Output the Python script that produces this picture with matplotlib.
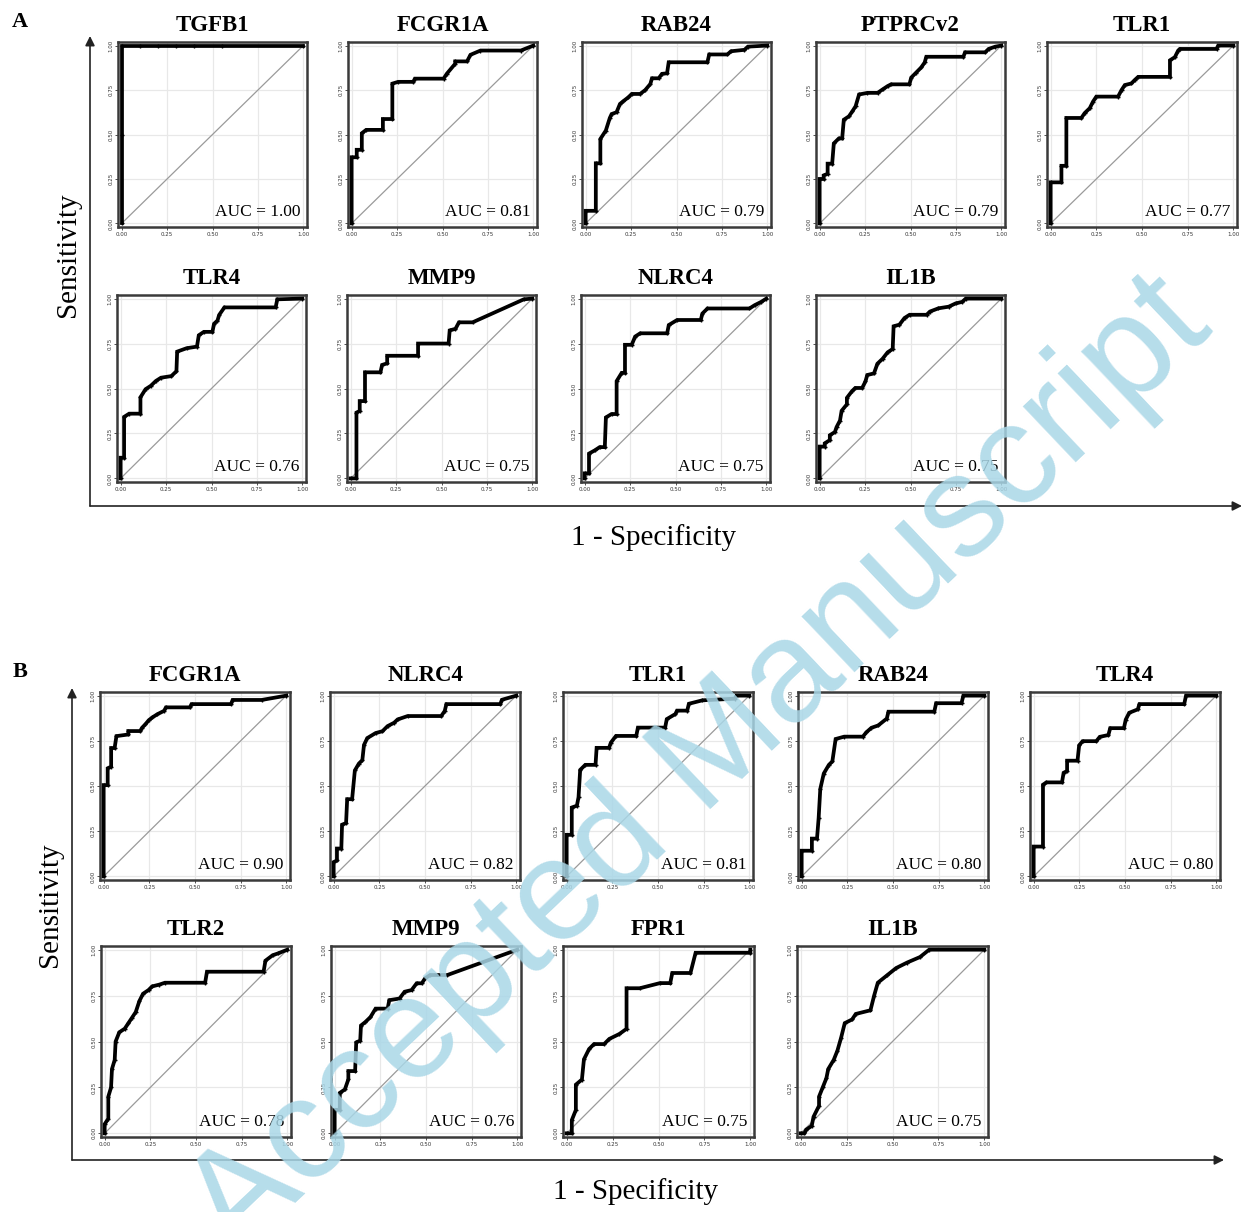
import matplotlib
matplotlib.use("Agg")
import matplotlib.pyplot as plt

W, H = 1247, 1212
SERIF = ["Liberation Serif", "DejaVu Serif"]

# ---- panel A: ROC curves (fpr, tpr) ----
a_tgfb1 = [(0, 0), (0, 0.5), (0, 1), (0.1, 1), (0.2, 1), (0.3, 1), (0.4, 1), (0.55, 1), (1, 1)]
a_fcgr1a = [(0, 0), (0, 0.372), (0.028, 0.372), (0.028, 0.414), (0.056, 0.414), (0.056, 0.507),
            (0.08, 0.526), (0.172, 0.526), (0.172, 0.587), (0.224, 0.587), (0.224, 0.786),
            (0.256, 0.796), (0.339, 0.796), (0.348, 0.814), (0.506, 0.814), (0.524, 0.842),
            (0.57, 0.898), (0.57, 0.911), (0.635, 0.911), (0.654, 0.948), (0.709, 0.972),
            (0.931, 0.972), (1, 1)]
a_rab24 = [(0, 0), (0, 0.071), (0.056, 0.071), (0.056, 0.338), (0.081, 0.338), (0.081, 0.475),
           (0.111, 0.522), (0.133, 0.593), (0.143, 0.615), (0.17, 0.625), (0.189, 0.672),
           (0.207, 0.687), (0.235, 0.709), (0.254, 0.728), (0.3, 0.728), (0.328, 0.75),
           (0.356, 0.784), (0.365, 0.816), (0.402, 0.816), (0.42, 0.841), (0.448, 0.844),
           (0.457, 0.906), (0.67, 0.906), (0.68, 0.95), (0.78, 0.95), (0.8, 0.968),
           (0.874, 0.976), (0.893, 0.994), (1, 1)]
a_ptprcv2 = [(0, 0), (0, 0.25), (0.022, 0.25), (0.022, 0.27), (0.044, 0.279), (0.044, 0.336),
             (0.069, 0.336), (0.078, 0.45), (0.106, 0.478), (0.124, 0.478), (0.133, 0.583),
             (0.161, 0.602), (0.18, 0.63), (0.198, 0.659), (0.217, 0.725), (0.263, 0.734),
             (0.319, 0.734), (0.346, 0.753), (0.374, 0.772), (0.393, 0.782), (0.494, 0.782),
             (0.504, 0.82), (0.531, 0.848), (0.559, 0.877), (0.578, 0.905), (0.587, 0.937),
             (0.791, 0.937), (0.8, 0.962), (0.911, 0.962), (0.93, 0.981), (0.967, 0.994), (1, 1)]
a_tlr1 = [(0, 0), (0, 0.231), (0.059, 0.231), (0.059, 0.324), (0.086, 0.324), (0.086, 0.593),
          (0.168, 0.593), (0.186, 0.62), (0.214, 0.648), (0.232, 0.685), (0.25, 0.713),
          (0.369, 0.713), (0.388, 0.75), (0.406, 0.778), (0.442, 0.787), (0.46, 0.806),
          (0.479, 0.824), (0.653, 0.824), (0.653, 0.917), (0.68, 0.935), (0.698, 0.972),
          (0.707, 0.981), (0.908, 0.981), (0.917, 1), (1, 1)]
a_tlr4 = [(0, 0), (0, 0.115), (0.019, 0.115), (0.019, 0.342), (0.047, 0.36), (0.109, 0.36),
          (0.109, 0.451), (0.137, 0.496), (0.166, 0.515), (0.194, 0.542), (0.222, 0.56),
          (0.279, 0.569), (0.307, 0.596), (0.311, 0.705), (0.363, 0.724), (0.42, 0.733),
          (0.43, 0.796), (0.458, 0.815), (0.505, 0.815), (0.514, 0.86), (0.533, 0.878),
          (0.542, 0.909), (0.571, 0.951), (0.853, 0.951), (0.862, 0.996), (1, 1)]
a_mmp9 = [(0, 0), (0.032, 0), (0.032, 0.366), (0.05, 0.375), (0.05, 0.43), (0.079, 0.43),
          (0.079, 0.59), (0.164, 0.59), (0.173, 0.631), (0.201, 0.64), (0.201, 0.682),
          (0.371, 0.682), (0.371, 0.75), (0.539, 0.75), (0.545, 0.823), (0.577, 0.832),
          (0.596, 0.868), (0.671, 0.868), (0.953, 0.996), (1, 1)]
a_nlrc4 = [(0, 0), (0, 0.028), (0.024, 0.028), (0.024, 0.138), (0.056, 0.156), (0.083, 0.174),
           (0.111, 0.174), (0.117, 0.339), (0.148, 0.358), (0.176, 0.358), (0.176, 0.541),
           (0.204, 0.587), (0.222, 0.587), (0.222, 0.743), (0.259, 0.743), (0.278, 0.789),
           (0.306, 0.807), (0.454, 0.807), (0.463, 0.853), (0.509, 0.881), (0.639, 0.881),
           (0.648, 0.917), (0.676, 0.945), (0.907, 0.945), (0.935, 0.963), (0.972, 0.982), (1, 1)]
a_il1b = [(0, 0), (0, 0.177), (0.028, 0.177), (0.028, 0.195), (0.056, 0.213), (0.056, 0.24),
          (0.084, 0.258), (0.093, 0.285), (0.112, 0.322), (0.121, 0.376), (0.15, 0.412),
          (0.15, 0.448), (0.178, 0.485), (0.196, 0.503), (0.234, 0.503), (0.252, 0.539),
          (0.262, 0.575), (0.299, 0.584), (0.318, 0.638), (0.346, 0.665), (0.374, 0.701),
          (0.402, 0.72), (0.407, 0.846), (0.439, 0.855), (0.467, 0.892), (0.495, 0.91),
          (0.589, 0.91), (0.607, 0.928), (0.654, 0.946), (0.71, 0.955), (0.748, 0.973),
          (0.785, 0.982), (0.804, 1), (1, 1)]

# ---- panel B ----
b_fcgr1a = [(0, 0), (0, 0.505), (0.022, 0.505), (0.022, 0.598), (0.041, 0.607), (0.041, 0.71),
            (0.06, 0.71), (0.07, 0.776), (0.135, 0.785), (0.135, 0.804), (0.2, 0.804),
            (0.21, 0.822), (0.228, 0.841), (0.247, 0.864), (0.266, 0.879), (0.294, 0.897),
            (0.331, 0.916), (0.341, 0.935), (0.472, 0.935), (0.481, 0.953), (0.697, 0.953),
            (0.706, 0.976), (0.865, 0.976), (1, 1)]
b_nlrc4 = [(0, 0), (0, 0.079), (0.018, 0.088), (0.018, 0.154), (0.042, 0.154), (0.046, 0.286),
           (0.068, 0.295), (0.074, 0.427), (0.101, 0.427), (0.116, 0.586), (0.138, 0.624),
           (0.157, 0.643), (0.166, 0.727), (0.184, 0.765), (0.23, 0.793), (0.267, 0.803),
           (0.295, 0.831), (0.331, 0.85), (0.35, 0.868), (0.405, 0.887), (0.589, 0.887),
           (0.608, 0.915), (0.617, 0.953), (0.912, 0.953), (0.921, 0.977), (1, 1)]
b_tlr1 = [(0, 0), (0, 0.23), (0.028, 0.23), (0.028, 0.381), (0.056, 0.391), (0.065, 0.438),
          (0.074, 0.589), (0.102, 0.617), (0.158, 0.617), (0.164, 0.711), (0.232, 0.711),
          (0.242, 0.74), (0.27, 0.777), (0.381, 0.777), (0.39, 0.823), (0.539, 0.823),
          (0.548, 0.87), (0.595, 0.898), (0.604, 0.917), (0.66, 0.917), (0.669, 0.955),
          (0.743, 0.974), (0.92, 0.983), (0.929, 1), (1, 1)]
b_rab24 = [(0, 0), (0, 0.142), (0.056, 0.142), (0.056, 0.209), (0.084, 0.209), (0.093, 0.323),
           (0.102, 0.484), (0.121, 0.569), (0.149, 0.617), (0.168, 0.636), (0.186, 0.76),
           (0.233, 0.773), (0.335, 0.773), (0.354, 0.797), (0.382, 0.822), (0.419, 0.835),
           (0.466, 0.873), (0.475, 0.911), (0.726, 0.911), (0.736, 0.958), (0.875, 0.958),
           (0.885, 1), (1, 1)]
b_tlr4 = [(0, 0), (0, 0.165), (0.051, 0.165), (0.051, 0.507), (0.07, 0.52), (0.155, 0.52),
          (0.164, 0.573), (0.183, 0.583), (0.183, 0.64), (0.24, 0.64), (0.249, 0.725),
          (0.268, 0.748), (0.343, 0.748), (0.362, 0.772), (0.409, 0.782), (0.419, 0.82),
          (0.494, 0.82), (0.504, 0.867), (0.523, 0.905), (0.57, 0.924), (0.579, 0.953),
          (0.824, 0.953), (0.834, 1), (1, 1)]
b_tlr2 = [(0, 0), (0, 0.05), (0.02, 0.08), (0.02, 0.2), (0.035, 0.25), (0.04, 0.35),
          (0.055, 0.4), (0.06, 0.5), (0.08, 0.55), (0.11, 0.57), (0.13, 0.6), (0.15, 0.63),
          (0.17, 0.66), (0.19, 0.72), (0.21, 0.76), (0.24, 0.78), (0.26, 0.8), (0.3, 0.81),
          (0.33, 0.82), (0.55, 0.82), (0.56, 0.88), (0.87, 0.88), (0.88, 0.94), (0.92, 0.97),
          (0.95, 0.98), (1, 1)]
b_mmp9 = [(0, 0), (0, 0.128), (0.028, 0.128), (0.028, 0.22), (0.056, 0.239), (0.075, 0.294),
          (0.075, 0.339), (0.112, 0.339), (0.118, 0.495), (0.14, 0.505), (0.144, 0.587),
          (0.168, 0.606), (0.196, 0.633), (0.224, 0.679), (0.29, 0.679), (0.299, 0.725),
          (0.355, 0.734), (0.383, 0.771), (0.421, 0.78), (0.449, 0.817), (0.477, 0.817),
          (0.495, 0.844), (0.523, 0.862), (0.617, 0.862), (1, 1)]
b_fpr1 = [(0, 0), (0.028, 0), (0.028, 0.072), (0.05, 0.127), (0.05, 0.265), (0.083, 0.293),
          (0.094, 0.403), (0.122, 0.459), (0.149, 0.486), (0.204, 0.486), (0.232, 0.514),
          (0.287, 0.541), (0.326, 0.569), (0.326, 0.79), (0.398, 0.79), (0.508, 0.818),
          (0.564, 0.818), (0.575, 0.873), (0.674, 0.873), (0.702, 0.983), (1, 0.983), (1, 1)]
b_il1b = [(0, 0), (0.02, 0), (0.03, 0.02), (0.06, 0.04), (0.07, 0.09), (0.1, 0.15), (0.1, 0.2),
          (0.12, 0.25), (0.14, 0.3), (0.15, 0.35), (0.18, 0.4), (0.2, 0.45), (0.22, 0.52),
          (0.24, 0.6), (0.28, 0.62), (0.3, 0.65), (0.38, 0.67), (0.4, 0.75), (0.42, 0.82),
          (0.47, 0.86), (0.52, 0.9), (0.58, 0.93), (0.65, 0.96), (0.7, 1), (1, 1)]

genes_a = ["TGFB1", "FCGR1A", "RAB24", "PTPRCv2", "TLR1", "TLR4", "MMP9", "NLRC4", "IL1B"]
auc_a = [1.00, 0.81, 0.79, 0.79, 0.77, 0.76, 0.75, 0.75, 0.75]
curves_a = [a_tgfb1, a_fcgr1a, a_rab24, a_ptprcv2, a_tlr1, a_tlr4, a_mmp9, a_nlrc4, a_il1b]

genes_b = ["FCGR1A", "NLRC4", "TLR1", "RAB24", "TLR4", "TLR2", "MMP9", "FPR1", "IL1B"]
auc_b = [0.90, 0.82, 0.81, 0.80, 0.80, 0.78, 0.76, 0.75, 0.75]
curves_b = [b_fcgr1a, b_nlrc4, b_tlr1, b_rab24, b_tlr4, b_tlr2, b_mmp9, b_fpr1, b_il1b]

ticks = [0, 0.25, 0.5, 0.75, 1]
tick_labels = ["0.00", "0.25", "0.50", "0.75", "1.00"]

# panel boxes in pixels: (left, top, width, height)
boxes_a = [(118, 42, 189, 185), (348, 42, 189, 185), (582, 42, 189, 185), (816, 42, 189, 185),
           (1047, 42, 190, 185), (117, 295, 189, 187), (347, 295, 189, 187),
           (581, 295, 189, 187), (816, 295, 189, 187)]
boxes_b = [(100, 692, 190, 188), (330, 692, 190, 188), (563, 692, 190, 188),
           (798, 692, 190, 188), (1030, 692, 190, 188), (101, 946, 190, 191),
           (331, 946, 190, 191), (563, 946, 191, 191), (797, 946, 191, 191)]

fig = plt.figure(figsize=(W / 100, H / 100), dpi=100)


def roc_panel(box, pts, gene, auc):
    l, t, w, h = box
    ax = fig.add_axes([l / W, 1 - (t + h) / H, w / W, h / H])
    fpr = [p[0] for p in pts]
    tpr = [p[1] for p in pts]
    ax.plot([0, 1], [0, 1], color="#9a9a9a", lw=0.9, zorder=2)
    ax.plot(fpr, tpr, color="black", lw=2.7, marker="+", ms=3.5, mew=1.0,
            solid_joinstyle="miter", zorder=3)
    ax.set_xlim(-0.02, 1.02)
    ax.set_ylim(-0.02, 1.02)
    ax.set_xticks(ticks)
    ax.set_yticks(ticks)
    ax.set_xticklabels(tick_labels)
    ax.set_yticklabels(tick_labels, rotation=90, va="center")
    ax.tick_params(labelsize=4, length=2, width=0.6, pad=1.5, colors="#333333")
    ax.grid(True, color="#e8e8e8", lw=0.9)
    ax.set_axisbelow(True)
    for s in ax.spines.values():
        s.set_linewidth(1.8)
        s.set_color("#3a3a3a")
    ax.set_title(gene, family=SERIF, fontsize=16.5, fontweight="bold", pad=8)
    ax.text(0.985, 0.02, f"AUC = {auc:.2f}", family=SERIF, fontsize=12.5,
            ha="right", va="bottom", zorder=4)
    return ax


for box, pts, g, a in zip(boxes_a, curves_a, genes_a, auc_a):
    roc_panel(box, pts, g, a)
for box, pts, g, a in zip(boxes_b, curves_b, genes_b, auc_b):
    roc_panel(box, pts, g, a)

# overlay in pixel coordinates for the big axes arrows and labels
ov = fig.add_axes([0, 0, 1, 1])
ov.set_xlim(0, W)
ov.set_ylim(H, 0)
ov.axis("off")
arrow = dict(arrowstyle="-|>", color="#222222", lw=1.2, mutation_scale=14, shrinkA=0, shrinkB=0)
ov.annotate("", xy=(90, 36), xytext=(90, 506), arrowprops=arrow)
ov.annotate("", xy=(1242, 506), xytext=(90, 506), arrowprops=arrow)
ov.annotate("", xy=(72, 688), xytext=(72, 1160), arrowprops=arrow)
ov.annotate("", xy=(1224, 1160), xytext=(72, 1160), arrowprops=arrow)

ov.text(20, 22, "A", family=SERIF, fontsize=16, fontweight="bold", ha="center", va="center")
ov.text(20, 672, "B", family=SERIF, fontsize=16, fontweight="bold", ha="center", va="center")
ov.text(68, 255, "Sensitivity", family=SERIF, fontsize=21, rotation=90, ha="center", va="center")
ov.text(50, 905, "Sensitivity", family=SERIF, fontsize=21, rotation=90, ha="center", va="center")
ov.text(654, 538, "1 - Specificity", family=SERIF, fontsize=21, ha="center", va="center")
ov.text(636, 1192, "1 - Specificity", family=SERIF, fontsize=21, ha="center", va="center")

# journal watermark
ov.text(700, 768, "Accepted Manuscript", family=["Liberation Sans", "DejaVu Sans"],
        fontsize=104, color="#a9d7e7", alpha=0.85, rotation=43.5, rotation_mode="anchor",
        ha="center", va="center", zorder=10)

fig.savefig("out.png", dpi=100, facecolor="white")
